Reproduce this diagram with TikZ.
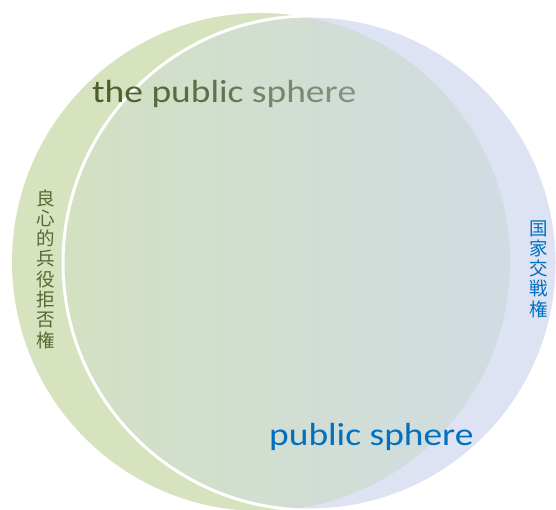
\documentclass[tikz,border=0pt]{standalone}
\usepackage{fontspec}
\usepackage{graphicx}
\setmainfont{Carlito}
\newfontfamily\cjk{Noto Sans CJK JP}
\definecolor{gfill}{RGB}{215,227,190}
\definecolor{bfill}{RGB}{221,227,243}
\definecolor{ovA}{RGB}{211,224,193}
\definecolor{ovB}{RGB}{203,217,207}
\definecolor{ovC}{RGB}{208,219,230}
\definecolor{tdark}{RGB}{74,94,38}
\definecolor{tgray}{RGB}{146,160,152}
\definecolor{olive}{RGB}{85,105,50}
\definecolor{pblue}{RGB}{0,112,192}
\newcommand{\gl}[2]{{\color{tdark!#1!tgray}#2}}
\tikzset{
  bigtext/.style={inner sep=0pt, anchor=base west, font=\fontsize{32}{38}\selectfont},
  vtext/.style={inner sep=0pt, align=center, font=\cjk\fontsize{18.5}{20.3}\selectfont}
}
\begin{document}
\begin{tikzpicture}[x=1pt,y=-1pt]
\useasboundingbox (0,0) rectangle (556,510);
\coordinate (gc) at (261,262);
\coordinate (bc) at (310,263);
\fill[gfill] (gc) circle[radius=249];
\fill[bfill] (bc) circle[radius=247];
\begin{scope}
  \clip (gc) circle[radius=249];
  \shade[left color=ovA, middle color=ovB, right color=ovC] (bc) circle[radius=247];
\end{scope}
\draw[white, line width=3pt] (bc) circle[radius=247];
\node[bigtext] (tps) at (92,102.3) {\scalebox{1.17}[1]{\gl{100}{t}\gl{97}{h}\gl{93}{e} \gl{82}{p}\gl{78}{u}\gl{74}{b}\gl{70}{l}\gl{67}{i}\gl{63}{c} \gl{45}{s}\gl{40}{p}\gl{35}{h}\gl{30}{e}\gl{25}{r}\gl{20}{e}}};
\node[bigtext, text=pblue] (ps) at (269,445.7) {\scalebox{1.17}[1]{public sphere}};
\node[vtext, text=olive] (left) at (46,269) {良\\心\\的\\兵\\役\\拒\\否\\権};
\node[vtext, text=pblue] (right) at (538.5,269) {国\\家\\交\\戦\\権};
\end{tikzpicture}
\end{document}
